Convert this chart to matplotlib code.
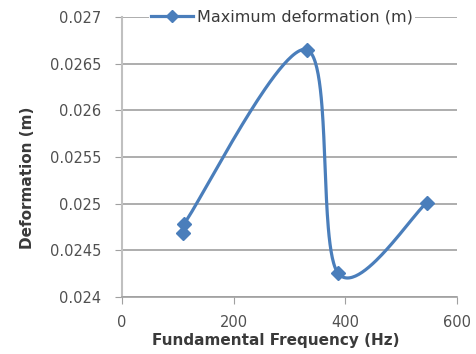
import numpy as np
import matplotlib
matplotlib.use('Agg')
from matplotlib import pyplot as plt

# data
freq = [109, 111, 331, 387, 546]
deform = [0.02469, 0.02478, 0.02665, 0.024255, 0.02501]
x_ticks = [0, 200, 400, 600]
y_ticks = [0.024, 0.0245, 0.025, 0.0255, 0.026, 0.0265, 0.027]
y_labels = ['0.024', '0.0245', '0.025', '0.0255', '0.026', '0.0265', '0.027']

blue = '#4A7EBB'
grid_c = '#A0A0A0'
text_c = '#505050'

fig = plt.figure(figsize=(4.77, 3.54), dpi=100)
ax = fig.add_axes([0.256, 0.161, 0.702, 0.791])
ax.set_xlim(0, 600)
ax.set_ylim(0.024, 0.027)

# smoothed line like excel (bezier through the points, in screen space)
fig.canvas.draw()
pts = ax.transData.transform(np.column_stack([freq, deform]))
p = np.vstack([pts[0], pts, pts[-1]])
curve = []
t = np.linspace(0, 1, 60)[:, None]
for i in range(1, len(p) - 2):
    p0, p1, p2, p3 = p[i - 1], p[i], p[i + 1], p[i + 2]
    d = np.linalg.norm(p2 - p1)
    t1 = (p2 - p0) / 6
    t2 = (p3 - p1) / 6
    # keep control points from running off on very short segments
    if np.linalg.norm(t1) > d / 2:
        t1 = t1 / np.linalg.norm(t1) * d / 2
    if np.linalg.norm(t2) > d / 2:
        t2 = t2 / np.linalg.norm(t2) * d / 2
    c1 = p1 + t1
    c2 = p2 - t2
    seg = (1 - t) ** 3 * p1 + 3 * (1 - t) ** 2 * t * c1 + 3 * (1 - t) * t ** 2 * c2 + t ** 3 * p2
    curve.append(seg)
curve = ax.transData.inverted().transform(np.vstack(curve))

ax.plot(curve[:, 0], curve[:, 1], color=blue, lw=2.3, zorder=3, solid_capstyle='round')
ax.plot(freq, deform, 'D', color=blue, ms=7, zorder=4)
ax.plot([], [], '-D', color=blue, lw=2.3, ms=6, label='Maximum deformation (m)')

ax.set_xticks(x_ticks)
ax.set_yticks(y_ticks)
ax.set_yticklabels(y_labels)
ax.yaxis.grid(True, color=grid_c, lw=1.2)
ax.set_axisbelow(True)
for s in ['top', 'right']:
    ax.spines[s].set_visible(False)
ax.spines['left'].set_color('#C0C0C0')
ax.spines['left'].set_linewidth(1.5)
ax.spines['bottom'].set_color(grid_c)
ax.spines['bottom'].set_linewidth(1.2)
ax.tick_params(axis='both', colors=grid_c, labelcolor=text_c, labelsize=10.5, length=5, direction='out')
ax.tick_params(axis='y', pad=10)
ax.tick_params(axis='x', pad=8)

ax.set_xlabel('Fundamental Frequency (Hz)', fontsize=11, fontweight='bold', color='#3a3a3a')
ax.set_ylabel('Deformation (m)', fontsize=11, fontweight='bold', color='#3a3a3a')
ax.xaxis.set_label_coords(0.46, -0.13)
ax.yaxis.set_label_coords(-0.26, 0.425)

leg = ax.legend(loc='center', bbox_to_anchor=(0.478, 1.0), frameon=True, fontsize=11.5,
                handlelength=2.6, borderpad=0.1, handletextpad=0.3, borderaxespad=0)
leg.get_frame().set_edgecolor('none')
leg.get_frame().set_facecolor('white')
leg.get_frame().set_alpha(1)
for txt in leg.get_texts():
    txt.set_color('#3a3a3a')

fig.savefig('out.png', dpi=100)
